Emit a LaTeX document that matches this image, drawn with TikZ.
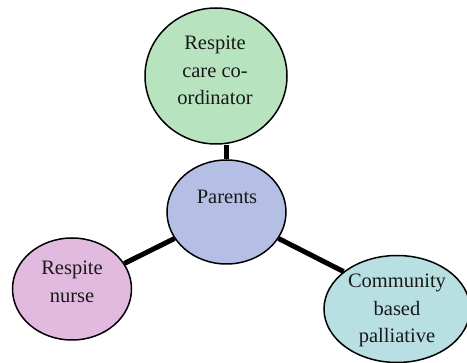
\documentclass[tikz,border=0pt]{standalone}
\usepackage{fontspec}
\setmainfont{Liberation Serif}
\usetikzlibrary{shapes.geometric}
\definecolor{cgreen}{HTML}{B8E3BF}
\definecolor{cblue}{HTML}{B5BFE6}
\definecolor{cpink}{HTML}{E2B9DF}
\definecolor{cteal}{HTML}{B8DFE2}
\tikzset{
  bubble/.style={ellipse, draw=black, line width=1.5pt, inner sep=0pt},
  label text/.style={anchor=north, inner sep=0pt, align=center, text=black!90,
    font=\fontsize{20.5pt}{27.3pt}\selectfont},
  link/.style={line width=5pt, draw=black}
}
\begin{document}
\begin{tikzpicture}[x=1pt,y=-1pt]
\useasboundingbox (0,0) rectangle (467,363);
% links first (behind)
\node[bubble, fill=cgreen, minimum width=142pt, minimum height=136pt] (rcc) at (216,76) {};
\node[bubble, fill=cblue, minimum width=119pt, minimum height=104pt] (par) at (226.5,212) {};
\node[bubble, fill=cpink, minimum width=119pt, minimum height=102pt] (nurse) at (72,289) {};
\node[bubble, fill=cteal, minimum width=146pt, minimum height=107pt] (comm) at (397,309) {};
\draw[link] (par.north) -- (par.north |- rcc.south);
\draw[link] (par.207.7) -- (nurse.26.6);
\draw[link] (par.333.2) -- (comm.145.5);
\node[label text] (trcc) at (215,36) {Respite\\care co-\\ordinator};
\node[label text] (tpar) at (227,190) {Parents};
\node[label text] (tnurse) at (72,261) {Respite\\nurse};
\node[label text] (tcomm) at (397,274) {Community\\based\\palliative};
\end{tikzpicture}
\end{document}
